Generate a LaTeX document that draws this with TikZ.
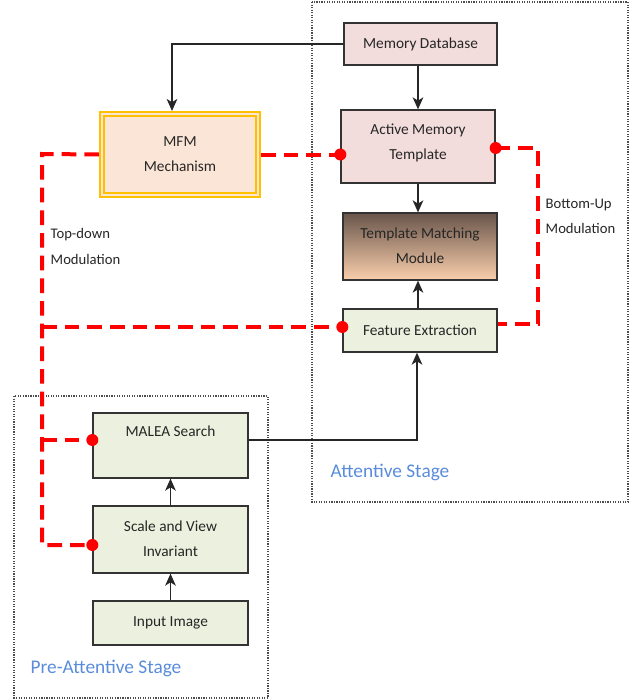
\documentclass[tikz,border=0pt]{standalone}
\usepackage{fontspec}
\setmainfont{Carlito}
\usetikzlibrary{arrows.meta}
\begin{document}
\begin{tikzpicture}[x=0.75pt,y=-0.75pt,
  box/.style={draw=black!80, line width=1pt, align=center, inner sep=0pt, font=\fontsize{11.5}{19}\selectfont, text=black!85},
  txt/.style={align=center, inner sep=0pt, font=\fontsize{11.5}{19}\selectfont, text=black!85},
  stage/.style={draw=black!70, densely dotted, line width=0.9pt},
  arr/.style={-{Stealth[length=9pt,width=8pt,inset=2.5pt]}, line width=1pt, black!85},
  mod/.style={draw=red, line width=3pt, dash pattern=on 11pt off 6pt},
  dot/.style={circle, fill=red, inner sep=0pt, minimum size=9pt},
  lbl/.style={align=left, font=\fontsize{11}{19}\selectfont, text=black!85},
  stagelbl/.style={font=\fontsize{14.5}{16}\selectfont, text={rgb,255:red,90;green,140;blue,220}},
  gold/.style={draw={rgb,255:red,255;green,192;blue,0}, line width=1.6pt}
]
\useasboundingbox (0,0) rectangle (631,700);
% stages
\draw[stage] (312,2) rectangle (628,502);
\draw[stage] (14,396) rectangle (268,698);
\node[stagelbl, anchor=west] (att) at (326,472) {Attentive Stage};
\node[stagelbl, anchor=west] (pre) at (26,668) {Pre-Attentive Stage};
% boxes
\node[box, fill={rgb,255:red,242;green,221;blue,220}, minimum width=153*0.75pt, minimum height=42*0.75pt] (mdb) at (420.5,44) {Memory Database};
\node[box, fill={rgb,255:red,242;green,221;blue,220}, minimum width=154*0.75pt, minimum height=73*0.75pt] (amt) at (418,146.5) {};
\node[txt] (amtt) at (418,143) {Active Memory\\Template};
\node[box, top color={rgb,255:red,105;green,85;blue,75}, bottom color={rgb,255:red,250;green,207;blue,172}, minimum width=154*0.75pt, minimum height=67*0.75pt] (tmm) at (420,246.5) {};
\node[txt] (tmmt) at (420,246) {Template Matching\\Module};
\node[box, fill={rgb,255:red,235;green,241;blue,222}, minimum width=154*0.75pt, minimum height=43*0.75pt] (fe) at (420,330.5) {Feature Extraction};
% MFM
\node[gold, fill={rgb,255:red,251;green,229;blue,214}, minimum width=160*0.75pt, minimum height=85*0.75pt, inner sep=0pt] (mfm) at (180,154.5) {};
\node[gold, minimum width=152*0.75pt, minimum height=77*0.75pt, inner sep=0pt] (mfmin) at (180,154.5) {};
\node[txt] (mfmt) at (180,154) {MFM\\Mechanism};
% pre-attentive boxes
\node[box, fill={rgb,255:red,235;green,241;blue,222}, minimum width=155*0.75pt, minimum height=65*0.75pt] (malea) at (170.5,445.5) {};
\node[txt, anchor=north] (maleat) at (170.5,426) {MALEA Search};
\node[box, fill={rgb,255:red,235;green,241;blue,222}, minimum width=155*0.75pt, minimum height=67*0.75pt] (svi) at (170.5,539.5) {};
\node[txt] (svit) at (170.5,539) {Scale and View\\Invariant};
\node[box, fill={rgb,255:red,235;green,241;blue,222}, minimum width=155*0.75pt, minimum height=44*0.75pt] (inp) at (170.5,623) {Input Image};
% arrows
\coordinate (c1) at (172,44);
\draw[arr] (mdb.west) -- (c1) -- (mfm.north -| c1);
\draw[arr] (mdb.south -| amt.north) -- (amt.north);
\draw[arr] (amt.south) -- (amt.south |- tmm.north);
\draw[arr] (fe.north -| amt.south) -- (tmm.south -| amt.south);
\coordinate (c2) at (417,440);
\draw[arr] (malea.east |- c2) -- (c2) -- (fe.south -| c2);
\draw[arr] (svi.north) -- (malea.south);
\draw[arr] (inp.north) -- (svi.south);
% modulation
\coordinate (l1) at (42,154);
\coordinate (l2) at (42,545);
\coordinate (l3) at (42,327);
\coordinate (l4) at (42,440);
\coordinate (r1) at (538,148);
\coordinate (r2) at (538,324);
\draw[mod] (mfm.east) -- (amt.west |- mfm.east);
\draw[mod] (mfm.west) -- (l1) -- (l2) -- (svi.west |- l2);
\draw[mod] (l3) -- (fe.west |- l3);
\draw[mod] (l4) -- (malea.west |- l4);
\draw[mod] (amt.east |- r1) -- (r1) -- (r2) -- (fe.east |- r2);
\node[dot] (d1) at (amt.west |- mfm.east) {};
\node[dot] (d2) at (amt.east |- r1) {};
\node[dot] (d3) at (fe.west |- l3) {};
\node[dot] (d4) at (malea.west |- l4) {};
\node[dot] (d5) at (svi.west |- l2) {};
\node[lbl, anchor=north west] (td) at (46,224) {Top-down\\Modulation};
\node[lbl, anchor=north west] (bu) at (541,194) {Bottom-Up\\Modulation};
\end{tikzpicture}
\end{document}
